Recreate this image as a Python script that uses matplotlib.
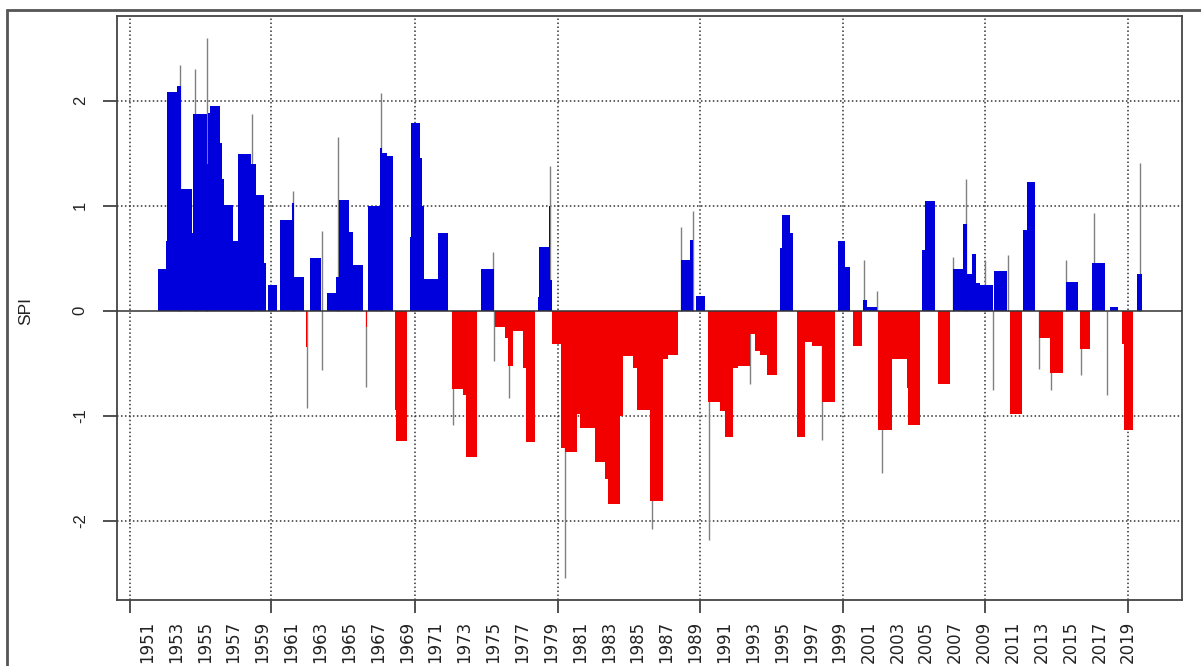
import numpy as np
import matplotlib.pyplot as plt
from matplotlib.patches import Rectangle

# SPI series: each value holds from its start year to the next start
seg_start = [1951.75, 1952.30, 1952.36, 1953.06, 1953.38, 1954.09, 1954.20, 1955.13, 1955.22, 1955.40,
             1956.06, 1956.20, 1956.35, 1956.98, 1957.30, 1958.20, 1958.55, 1959.10, 1959.25, 1959.40,
             1960.00, 1960.25, 1961.05, 1961.18, 1961.88, 1962.04, 1962.10, 1962.32, 1963.05, 1963.45,
             1964.10, 1964.30, 1965.02, 1965.25, 1966.00, 1966.18, 1966.24, 1966.34, 1967.15, 1967.26,
             1967.60, 1968.07, 1968.22, 1968.28, 1969.00, 1969.20, 1969.28, 1969.92, 1970.05, 1970.22,
             1971.20, 1971.88, 1972.15, 1972.90, 1973.12, 1973.85, 1974.15, 1975.02, 1975.10, 1975.80,
             1976.05, 1976.35, 1977.08, 1977.30, 1977.90, 1978.12, 1978.20, 1978.85, 1978.95, 1979.10,
             1979.72, 1979.95, 1980.78, 1981.00, 1982.05, 1982.75, 1982.95, 1983.78, 1984.00, 1984.70,
             1984.93, 1985.86, 1986.78, 1987.10, 1987.82, 1988.03, 1988.63, 1988.86, 1989.07, 1989.67,
             1989.88, 1990.71, 1991.05, 1991.62, 1991.98, 1992.79, 1993.13, 1993.48, 1993.95, 1994.64,
             1994.87, 1995.00, 1995.55, 1995.80, 1996.03, 1996.60, 1997.06, 1997.75, 1998.68, 1998.90,
             1999.37, 1999.72, 1999.95, 2000.53, 2000.64, 2000.87, 2001.57, 2001.68, 2002.60, 2003.65,
             2003.76, 2004.57, 2004.69, 2004.92, 2005.61, 2005.84, 2006.65, 2006.88, 2007.57, 2007.80,
             2008.15, 2008.45, 2008.73, 2009.60, 2009.72, 2010.58, 2010.81, 2011.62, 2011.73, 2011.96,
             2012.54, 2012.84, 2013.58, 2014.50, 2014.69, 2015.54, 2015.66, 2016.35, 2016.47, 2017.39,
             2017.74, 2018.31, 2018.55, 2018.70, 2019.35, 2019.58]
seg_spi = [0.40, 0.66, 2.08, 2.14, 1.16, 0.74, 1.87, 1.40, 1.88, 1.95,
           1.60, 1.25, 1.01, 0.66, 1.49, 1.40, 1.10, 0.45, 0.00, 0.24,
           0.00, 0.86, 1.02, 0.32, 0.00, -0.35, 0.00, 0.50, 0.00, 0.17,
           0.32, 1.05, 0.75, 0.43, 0.00, -0.16, 0.00, 1.00, 1.55, 1.50,
           1.47, 0.00, -0.95, -1.24, 0.00, 0.70, 1.79, 1.45, 1.00, 0.30,
           0.74, 0.00, -0.75, -0.80, -1.39, 0.00, 0.40, 0.00, -0.16, -0.26,
           -0.53, -0.19, -0.55, -1.25, 0.00, 0.13, 0.61, 1.00, 0.29, -0.32,
           -1.31, -1.35, -0.98, -1.12, -1.44, -1.60, -1.84, -1.00, -0.43, -0.55,
           -0.95, -1.81, -0.46, -0.42, 0.00, 0.48, 0.67, 0.00, 0.14, 0.00,
           -0.87, -0.96, -1.20, -0.55, -0.53, -0.22, -0.38, -0.42, -0.61, 0.00,
           0.60, 0.91, 0.74, 0.00, -1.20, -0.30, -0.34, -0.87, 0.00, 0.66,
           0.42, 0.00, -0.34, 0.00, 0.10, 0.03, 0.00, -1.14, -0.46, -0.74,
           -1.09, 0.00, 0.58, 1.04, 0.00, -0.70, 0.00, 0.40, 0.82, 0.35,
           0.54, 0.26, 0.24, 0.00, 0.38, 0.00, -0.98, 0.00, 0.77, 1.22,
           0.00, -0.26, -0.59, 0.00, 0.27, 0.00, -0.37, 0.00, 0.45, 0.00,
           0.03, 0.00, -0.32, -1.14, 0.00, 0.35]
seg_end = 2019.93

# single-month extremes that show as thin grey lines
spike_year = [1953.29, 1954.33, 1955.18, 1958.25, 1961.14, 1962.07, 1963.10, 1963.16, 1964.26, 1966.20,
              1967.20, 1972.20, 1975.00, 1975.02, 1976.10, 1978.90, 1980.00, 1985.98, 1987.98, 1988.82,
              1989.97, 1992.79, 1997.75, 2000.71, 2001.61, 2001.91, 2006.88, 2007.73, 2009.07, 2009.60,
              2010.69, 2012.84, 2013.63, 2014.69, 2015.70, 2016.63, 2017.50, 2019.82]
spike_spi = [2.34, 2.30, 2.60, 1.87, 1.14, -0.93, 0.76, -0.57, 1.65, -0.73,
             2.07, -1.09, 0.56, -0.48, -0.83, 1.38, -2.55, -2.08, 0.80, 0.95,
             -2.18, -0.70, -1.23, 0.48, 0.19, -1.55, 0.51, 1.25, 0.48, -0.76,
             0.53, -0.56, -0.76, 0.48, -0.61, 0.93, -0.80, 1.41]

label_years = list(range(1951, 2020, 2))
grid_x = [1949.8, 1959.6, 1969.55, 1979.5, 1989.35, 1999.25, 2009.1, 2019.0]
y_ticks = [-2, -1, 0, 1, 2]

BLUE = "#0000dc"
RED = "#f20000"

fig = plt.figure(figsize=(12.01, 6.66), dpi=100)
ax = fig.add_axes([117 / 1201, 1 - 600 / 666, 1065 / 1201, 584 / 666])

# outer frame of the image
fig.patches.append(Rectangle((7 / 1201, -0.05), 1.2, 1 - 10 / 666 + 0.05,
                             transform=fig.transFigure, fill=False, ec="#555555", lw=2))

edges = np.append(seg_start, seg_end)
widths = np.diff(edges)
vals = np.array(seg_spi)
colors = np.where(vals >= 0, BLUE, RED)
# spikes go behind the bars, so only the part sticking out shows
ax.vlines(spike_year, 0, spike_spi, color="#808080", lw=1.0, zorder=1.5)
ax.bar(seg_start, vals, width=widths, align="edge", color=colors,
       linewidth=0, antialiased=False, zorder=2)

ax.axhline(0, color="#333333", lw=1.1, zorder=4)

ax.set_xlim(1948.92, 2022.73)
ax.set_ylim(-2.755, 2.805)

# ticks with grid, and the year labels with no tick marks
ax.xaxis.remove_overlapping_locs = False
ax.set_xticks(grid_x)
ax.set_xticklabels([])
ax.set_xticks(label_years, minor=True)
ax.set_xticklabels([str(y) for y in label_years], minor=True, rotation=90,
                   fontsize=12, color="#222222", family="DejaVu Sans")
ax.tick_params(axis="x", which="major", length=9, width=1.2, color="#333333")
ax.tick_params(axis="x", which="minor", length=0, pad=15)

ax.set_yticks(y_ticks)
ax.set_yticklabels([str(v) for v in y_ticks], rotation=90, va="center",
                   fontsize=12, color="#222222", family="Liberation Sans")
ax.tick_params(axis="y", length=10, width=1.2, color="#333333", pad=11)

dots = (0, (1, 1.6))
for gx in grid_x:
    ax.axvline(gx, color="#333333", lw=1.1, ls=dots, zorder=1)
for gy in [-2, -1, 1, 2]:
    ax.axhline(gy, color="#333333", lw=1.1, ls=dots, zorder=1)

for s in ax.spines.values():
    s.set_color("#444444")
    s.set_linewidth(1.3)

fig.text(26 / 1201, 1 - 311 / 666, "SPI", rotation=90, ha="center", va="center",
         fontsize=12.5, color="#222222", family="Liberation Sans")

fig.savefig("out.png", dpi=100)
